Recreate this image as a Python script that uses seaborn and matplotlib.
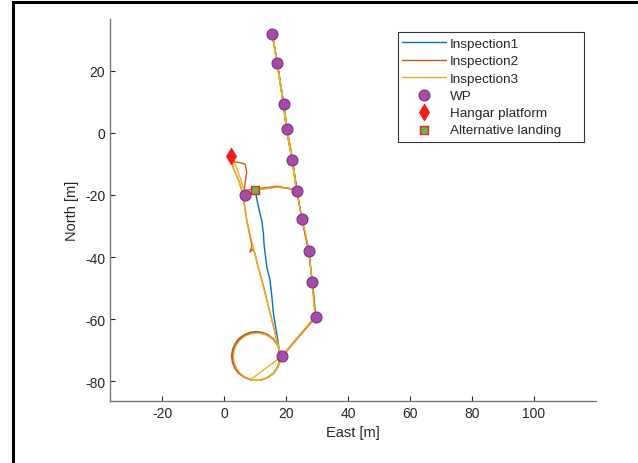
import matplotlib
matplotlib.use("Agg")
import matplotlib.pyplot as plt
from matplotlib.patches import Rectangle
import seaborn as sns

# Waypoints and landing spots (East, North in metres)
wp_east = [15.6, 17.1, 19.2, 20.2, 22.0, 23.4, 6.9, 25.2, 27.4, 28.4, 29.7, 18.6]
wp_north = [31.7, 22.6, 9.2, 1.4, -8.6, -18.6, -20.0, -27.9, -38.2, -47.9, -59.2, -72.0]
hangar_east = [2.3]
hangar_north = [-7.5]
alt_east = [10.0]
alt_north = [-18.3]

# Inspection 1: from the alternative landing, down the inner track, loop, up the WP line and back
insp1_east = [10.0, 10.6, 11.3, 12.2, 12.7, 12.9, 13.4, 13.8, 14.8, 15.4, 15.9, 16.8, 17.6,
              17.8, 17.0, 15.8, 14.2, 12.4, 10.4, 8.4, 6.5, 4.9, 3.7, 2.9, 2.7, 3.0, 3.8, 5.0,
              6.6, 8.5, 10.5, 12.4, 14.3, 15.9, 17.1, 17.9, 18.4, 18.6, 24.0, 29.5, 28.4, 27.4,
              25.2, 23.4, 22.0, 20.2, 19.2, 17.1, 15.6, 17.2, 19.3, 20.3, 22.1, 23.5, 20.5, 17.0,
              13.5, 10.3]
insp1_north = [-18.3, -21.5, -24.8, -28.5, -32.5, -36.0, -40.0, -43.4, -47.2, -52.5, -58.0, -63.5,
               -68.5, -74.0, -75.9, -77.5, -78.7, -79.5, -79.7, -79.4, -78.6, -77.4, -75.8, -73.9,
               -72.0, -70.0, -68.1, -66.5, -65.3, -64.5, -64.3, -64.6, -65.4, -66.6, -68.2, -70.0,
               -72.0, -72.0, -65.6, -59.2, -47.9, -38.2, -27.9, -18.6, -8.6, 1.4, 9.2, 22.6, 31.7,
               22.4, 9.0, 1.2, -8.8, -18.5, -17.9, -17.4, -17.9, -18.2]

# Inspection 2: from the hangar, outer track with a small kink, loop, WP line, back to the hangar
insp2_east = [2.3, 3.0, 4.8, 6.0, 6.6, 7.3, 8.3, 9.0, 8.3, 9.4, 10.0, 10.8, 11.8, 13.0, 14.3, 15.6,
              16.8, 17.8, 17.9, 17.1, 15.9, 14.3, 12.4, 10.3, 8.3, 6.4, 4.7, 3.5, 2.7, 2.4, 2.7,
              3.5, 4.7, 6.4, 8.3, 10.3, 12.4, 14.3, 15.9, 17.1, 17.9, 18.2, 18.6, 24.1, 29.6,
              28.5, 27.3, 25.1, 23.5, 21.9, 20.1, 19.1, 17.3, 15.6, 17.0, 19.2, 20.2, 22.0, 23.4,
              20.4, 17.0, 13.4, 10.3, 6.5, 6.8, 7.3, 6.8, 5.2, 3.5, 2.3]
insp2_north = [-7.5, -11.5, -15.5, -19.5, -23.5, -28.0, -33.0, -36.5, -38.4, -37.4, -39.0, -42.5,
               -46.0, -50.5, -55.8, -61.0, -66.0, -70.0, -74.0, -75.9, -77.5, -78.7, -79.5, -79.8,
               -79.5, -78.7, -77.5, -75.9, -74.0, -71.9, -69.9, -68.0, -66.3, -65.1, -64.3, -64.0,
               -64.3, -65.1, -66.3, -68.0, -69.9, -71.9, -72.2, -65.8, -59.3, -48.0, -38.3, -27.8,
               -18.7, -8.7, 1.3, 9.4, 21.8, 31.7, 22.8, 9.3, 1.5, -8.5, -18.4, -17.8, -17.2, -17.7,
               -18.0, -18.7, -16.0, -12.8, -10.1, -9.6, -9.4, -7.5]

# Inspection 3: from the hangar, outer track, loop with a chord, WP line, straight back to the hangar
insp3_east = [2.3, 3.2, 5.0, 6.1, 6.8, 7.4, 8.6, 9.6, 10.6, 11.6, 12.9, 14.3, 15.7, 16.9, 17.9,
              17.9, 17.2, 16.0, 14.4, 12.6, 10.6, 8.6, 6.8, 5.2, 4.0, 3.3, 3.0, 3.3, 4.0, 5.2, 6.8,
              8.6, 10.6, 12.6, 14.4, 16.0, 17.2, 17.9, 18.2, 17.9, 17.2, 16.0, 14.4, 12.6, 10.6,
              8.6, 18.6, 24.0, 29.4, 28.3, 27.5, 25.3, 23.3, 22.1, 20.3, 19.3, 17.0, 15.6, 17.1,
              19.2, 20.1, 21.9, 23.3, 20.6, 17.1, 13.6, 10.2, 6.6, 5.4, 3.9, 2.3]
insp3_north = [-7.5, -11.8, -16.0, -20.0, -24.5, -28.5, -33.5, -37.5, -41.5, -45.5, -50.5, -55.8,
               -61.2, -66.2, -70.2, -74.1, -75.9, -77.5, -78.7, -79.4, -79.7, -79.4, -78.7, -77.5,
               -75.9, -74.1, -72.1, -70.1, -68.3, -66.7, -65.5, -64.8, -64.5, -64.8, -65.5, -66.7,
               -68.3, -70.1, -72.1, -74.1, -75.9, -77.5, -78.7, -79.4, -79.7, -79.5, -72.0, -65.6,
               -59.1, -47.8, -38.1, -28.0, -18.5, -8.5, 1.4, 9.1, 22.6, 31.7, 22.5, 9.2, 1.4, -8.6,
               -18.6, -17.8, -17.5, -18.0, -18.3, -19.0, -15.0, -11.0, -7.5]

colors = ["#0072BD", "#D95319", "#EDB120"]

sns.set_style("ticks")
plt.rcParams["font.family"] = ["Liberation Sans", "DejaVu Sans"]
plt.rcParams["axes.unicode_minus"] = False

fig = plt.figure(figsize=(6.38, 4.64), dpi=100)
ax = fig.add_axes([0.1724, 0.1336, 0.7618, 0.8234])

series = [(insp1_east, insp1_north, "Inspection1"),
          (insp2_east, insp2_north, "Inspection2"),
          (insp3_east, insp3_north, "Inspection3")]
for (xe, yn, name), c in zip(series, colors):
    sns.lineplot(x=xe, y=yn, sort=False, estimator=None, color=c, linewidth=1.0,
                 label=name, ax=ax)

sns.scatterplot(x=wp_east, y=wp_north, marker="o", s=62, color="#A64CA6",
                edgecolor="#7E2F8E", linewidth=0.8, label="WP", ax=ax, zorder=5)
sns.scatterplot(x=hangar_east, y=hangar_north, marker="d", s=75, color="#EE1C1C",
                edgecolor="#EE1C1C", linewidth=0.5, label="Hangar platform", ax=ax, zorder=6)
sns.scatterplot(x=alt_east, y=alt_north, marker="s", s=40, color="#63B847",
                edgecolor="#E8242A", linewidth=1.0, label="Alternative landing", ax=ax, zorder=6)

ax.set_xlim(-36.8, 120.0)
ax.set_ylim(-86.4, 36.7)
ax.set_xticks([-20, 0, 20, 40, 60, 80, 100])
ax.set_yticks([-80, -60, -40, -20, 0, 20])
ax.set_xlabel("East [m]", fontsize=10.5, color="#262626")
ax.set_ylabel("North [m]", fontsize=10.5, color="#262626")
ax.tick_params(direction="in", length=3.5, width=0.8, labelsize=10, colors="#262626")
for side in ["top", "right"]:
    ax.spines[side].set_visible(False)
for side in ["left", "bottom"]:
    ax.spines[side].set_color("#777777")
    ax.spines[side].set_linewidth(1.0)

# legend without its own frame, a box drawn at the reference size instead
leg = ax.legend(loc="upper left", bbox_to_anchor=(0.578, 0.979), fontsize=9.7,
                handlelength=3.3, handletextpad=0.25, labelspacing=0.355,
                borderpad=0.3, frameon=False)
leg.set_zorder(11)
ax.add_patch(Rectangle((0.5926, 0.678), 0.3827, 0.288, transform=ax.transAxes,
                       facecolor="white", edgecolor="#333333", linewidth=0.8,
                       zorder=10, clip_on=False))

# figure frame (left and top edges visible in the crop)
fig.patches.append(Rectangle((12.5 / 638, -0.1), 1.2, (464 - 2.5) / 464 + 0.1,
                             transform=fig.transFigure, fill=False, edgecolor="black",
                             linewidth=2.2, clip_on=False))

fig.savefig("out.png", dpi=100)
